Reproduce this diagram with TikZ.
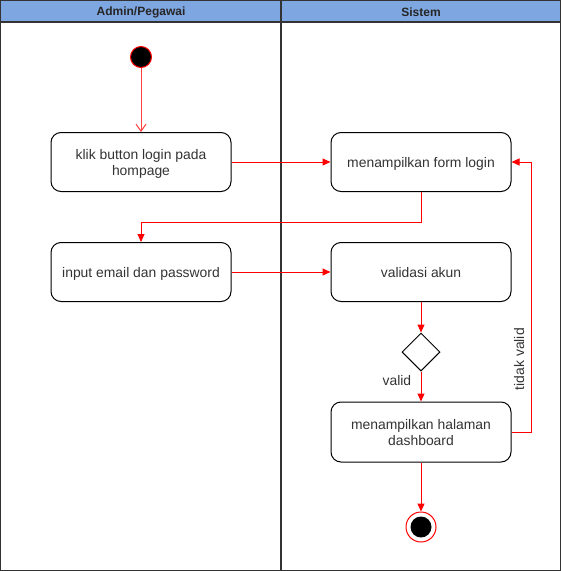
\documentclass[tikz,border=0pt]{standalone}
\usepackage{fontspec}
\setmainfont{Liberation Sans}
\usetikzlibrary{arrows.meta,shapes.geometric}
\definecolor{hdr}{HTML}{7EA6E0}
\definecolor{lane}{HTML}{333333}
\begin{document}
\begin{tikzpicture}[x=1pt,y=-1pt,
  act/.style={draw=black,line width=1pt,rounded corners=10pt,minimum width=180pt,minimum height=59pt,align=center,font=\fontsize{13.9}{16}\selectfont,text=black!80,inner sep=2pt,text depth=0pt},
  flow/.style={draw=red,line width=1pt,-{Triangle[length=8pt,width=7pt]}},
  lbl/.style={font=\fontsize{13.9}{16}\selectfont,text=black!80},
  hdrtext/.style={font=\fontsize{12}{14}\selectfont\bfseries,text=black!85}]
\useasboundingbox (0,0) rectangle (561,571);
% swimlanes
\fill[hdr] (0,0) rectangle (561,22);
\draw[lane,line width=1.2pt] (0.6,0.6) rectangle (560.4,570.4);
\draw[lane,line width=1.2pt] (0.6,22) -- (560.4,22);
\draw[lane,line width=1.5pt] (281,0.6) -- (281,570.4);
\node[hdrtext] (h1) at (141,12) {Admin/Pegawai};
\node[hdrtext] (h2) at (421,12) {Sistem};
% nodes
\node[circle,fill=black,draw=red,line width=1pt,minimum size=21pt,inner sep=0pt] (start) at (141,57) {};
\node[act] (klik) at (141,162) {klik button login pada\\hompage};
\node[act] (form) at (421,162) {menampilkan form login};
\node[act] (input) at (141,272) {input email dan password};
\node[act] (valid) at (421,272) {validasi akun};
\node[diamond,draw=black,line width=1pt,minimum width=38pt,minimum height=38pt,inner sep=0pt] (dec) at (421,352) {};
\node[act,minimum height=60pt] (dash) at (421,432) {menampilkan halaman\\dashboard};
\node[circle,draw=red,line width=1pt,fill=white,minimum size=30pt,inner sep=0pt] (end) at (421,527) {};
\node[circle,fill=black,minimum size=21pt,inner sep=0pt] (endin) at (end.center) {};
\coordinate (c1) at (421,222);
\coordinate (c2) at (141,222);
\coordinate (c3) at (531,432);
\coordinate (c4) at (531,162);
% connectors
\draw[draw=red!75,line width=1pt,-{Straight Barb[length=7pt,width=10pt]}] (start) -- (klik);
\draw[flow] (klik.east) -- (form.west);
\draw[flow] (form.south) -- (c1) -- (c2) -- (input.north);
\draw[flow] (input.east) -- (valid.west);
\draw[flow] (valid.south) -- (dec.north);
\draw[flow] (dec.south) -- node[lbl,pos=0.3,left=6pt] {valid} (dash.north);
\draw[flow] (dash.east) -- (c3) -- node[lbl,pos=0.27,rotate=90,above=3pt,anchor=south] {tidak valid} (c4) -- (form.east);
\draw[flow] (dash.south) -- (end.north);
\end{tikzpicture}
\end{document}
